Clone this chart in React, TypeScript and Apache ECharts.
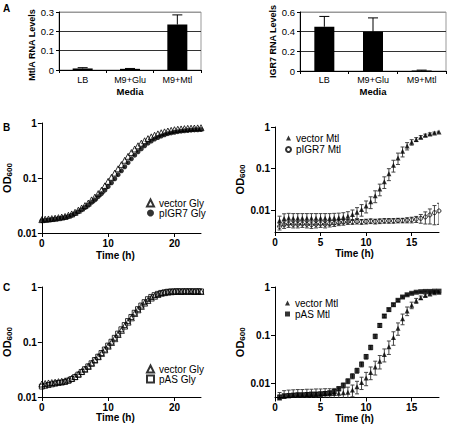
import React, { useEffect, useRef } from 'react';
import * as echarts from 'echarts';

// ---------- Panel A data ----------
const mediaCategories = ['LB', 'M9+Glu', 'M9+Mtl'];
const mtlALevels = [0.008, 0.006, 0.235];
const mtlAErrors = [0.004, 0.002, 0.05];
const igr7Levels = [0.45, 0.4, 0.005];
const igr7Errors = [0.105, 0.14, 0.004];

// ---------- Time grids (h) ----------
const timeGly = [0, 0.5, 1, 1.5, 2, 2.5, 3, 3.5, 4, 4.5, 5, 5.5, 6, 6.5, 7, 7.5, 8, 8.5, 9, 9.5, 10, 10.5, 11, 11.5, 12, 12.5, 13, 13.5, 14, 14.5, 15, 15.5, 16, 16.5, 17, 17.5, 18, 18.5, 19, 19.5, 20, 20.5, 21, 21.5, 22, 22.5, 23, 23.5, 24];
const timeMtl = [0.5, 1, 1.5, 2, 2.5, 3, 3.5, 4, 4.5, 5, 5.5, 6, 6.5, 7, 7.5, 8, 8.5, 9, 9.5, 10, 10.5, 11, 11.5, 12, 12.5, 13, 13.5, 14, 14.5, 15, 15.5, 16, 16.5, 17, 17.5, 18];
const glyTimeTicks = [0, 10, 20];
const mtlTimeTicks = [0, 5, 10, 15];
const decadeTicks = [-2, -1, 0];

// ---------- Panel B (left): glycerol ----------
const bVectorGly = [0.0175, 0.0178, 0.018, 0.0183, 0.0186, 0.019, 0.0195, 0.02, 0.021, 0.0222,
  0.0238, 0.026, 0.0285, 0.0315, 0.035, 0.04, 0.045, 0.052, 0.06, 0.072,
  0.087, 0.103, 0.123, 0.147, 0.175, 0.21, 0.248, 0.29, 0.337, 0.385,
  0.43, 0.475, 0.52, 0.56, 0.6, 0.635, 0.665, 0.69, 0.715, 0.735,
  0.755, 0.77, 0.78, 0.79, 0.8, 0.805, 0.81, 0.815, 0.82];
const bPIGR7Gly = [0.0168, 0.017, 0.0173, 0.0176, 0.018, 0.0184, 0.0188, 0.0193, 0.02, 0.021,
  0.0225, 0.0243, 0.0265, 0.029, 0.032, 0.036, 0.04, 0.046, 0.052, 0.06,
  0.07, 0.082, 0.097, 0.115, 0.135, 0.16, 0.19, 0.223, 0.26, 0.3,
  0.34, 0.385, 0.43, 0.47, 0.51, 0.545, 0.58, 0.61, 0.64, 0.66,
  0.68, 0.695, 0.71, 0.72, 0.73, 0.74, 0.75, 0.755, 0.76];

// ---------- Panel B (right): mannitol ----------
const bVectorMtl = [0.0056, 0.0062, 0.0064, 0.0063, 0.0063, 0.0063, 0.0063, 0.0063, 0.0063, 0.0063,
  0.0063, 0.0063, 0.0064, 0.0065, 0.0067, 0.0071, 0.0078, 0.0088, 0.0103, 0.0125,
  0.0158, 0.022, 0.032, 0.048, 0.075, 0.12, 0.18, 0.26, 0.35, 0.43,
  0.5, 0.57, 0.63, 0.68, 0.72, 0.76];
const bVectorMtlSD = [0.0015, 0.0019, 0.0019, 0.0019, 0.0019, 0.0019, 0.0019, 0.0019, 0.0019, 0.0019,
  0.0019, 0.0019, 0.0019, 0.0019, 0.0019, 0.002, 0.0022, 0.0026, 0.0032, 0.004,
  0.005, 0.007, 0.01, 0.015, 0.024, 0.038, 0.055, 0.07, 0.07, 0.065,
  0.055, 0.05, 0.045, 0.04, 0.035, 0.03];
const bPIGR7Mtl = [0.004, 0.0044, 0.0046, 0.0045, 0.0045, 0.0046, 0.0045, 0.0044, 0.0045, 0.0046,
  0.0045, 0.0047, 0.0048, 0.005, 0.0051, 0.0052, 0.0052, 0.0053, 0.0052, 0.0053,
  0.0054, 0.0053, 0.0054, 0.0055, 0.0055, 0.0055, 0.0056, 0.0056, 0.0057, 0.0058,
  0.006, 0.0063, 0.0068, 0.0076, 0.0086, 0.0095];
const bPIGR7MtlSD = [0.0007, 0.0008, 0.0008, 0.0008, 0.0008, 0.0008, 0.0008, 0.0008, 0.0008, 0.0008,
  0.0008, 0.0008, 0.0008, 0.0008, 0.0008, 0.0007, 0.0007, 0.0007, 0.0007, 0.0007,
  0.0007, 0.0007, 0.0007, 0.0007, 0.0007, 0.0007, 0.0007, 0.0007, 0.0008, 0.0009,
  0.001, 0.0015, 0.0022, 0.003, 0.0042, 0.005];

// ---------- Panel C (left): glycerol ----------
const cVectorGly = [0.0172, 0.0176, 0.018, 0.0183, 0.0186, 0.019, 0.0193, 0.0197, 0.0205, 0.0218,
  0.0235, 0.026, 0.029, 0.032, 0.036, 0.041, 0.047, 0.054, 0.062, 0.072,
  0.084, 0.098, 0.115, 0.137, 0.163, 0.195, 0.23, 0.275, 0.33, 0.385,
  0.445, 0.51, 0.57, 0.63, 0.68, 0.73, 0.77, 0.79, 0.81, 0.82,
  0.83, 0.83, 0.83, 0.83, 0.84, 0.83, 0.83, 0.83, 0.83];
const cPASGly = [0.0155, 0.016, 0.0165, 0.017, 0.0175, 0.018, 0.0183, 0.0188, 0.0198, 0.0212,
  0.023, 0.0255, 0.0285, 0.032, 0.036, 0.041, 0.047, 0.054, 0.063, 0.073,
  0.086, 0.101, 0.119, 0.142, 0.17, 0.203, 0.24, 0.285, 0.34, 0.395,
  0.46, 0.53, 0.6, 0.66, 0.71, 0.75, 0.78, 0.8, 0.82, 0.83,
  0.83, 0.84, 0.83, 0.84, 0.83, 0.84, 0.83, 0.84, 0.83];

// ---------- Panel C (right): mannitol ----------
const cVectorMtl = [0.005, 0.0054, 0.0056, 0.0057, 0.0058, 0.0058, 0.0059, 0.0059, 0.006, 0.006,
  0.0061, 0.0061, 0.0062, 0.0063, 0.0064, 0.0066, 0.0073, 0.0086, 0.0105, 0.013,
  0.017, 0.022, 0.029, 0.04, 0.058, 0.09, 0.14, 0.22, 0.32, 0.42,
  0.52, 0.6, 0.67, 0.72, 0.76, 0.78];
const cVectorMtlSD = [0.0015, 0.0017, 0.0017, 0.0017, 0.0017, 0.0017, 0.0017, 0.0017, 0.0017, 0.0017,
  0.0017, 0.0017, 0.0017, 0.0017, 0.0017, 0.0018, 0.002, 0.0025, 0.003, 0.004,
  0.005, 0.007, 0.009, 0.012, 0.018, 0.028, 0.04, 0.055, 0.065, 0.065,
  0.06, 0.05, 0.04, 0.03, 0.025, 0.02];
const cPASMtl = [0.0052, 0.0055, 0.0056, 0.0057, 0.0058, 0.0058, 0.0059, 0.006, 0.006, 0.0061,
  0.0062, 0.0064, 0.0068, 0.0078, 0.0092, 0.0112, 0.0142, 0.0185, 0.025, 0.036,
  0.056, 0.095, 0.16, 0.25, 0.34, 0.43, 0.53, 0.62, 0.69, 0.74,
  0.78, 0.8, 0.81, 0.81, 0.82, 0.82];
const cPASMtlSD = [0.0006, 0.0006, 0.0006, 0.0006, 0.0006, 0.0006, 0.0006, 0.0006, 0.0006, 0.0006,
  0.0006, 0.0006, 0.0007, 0.0008, 0.001, 0.0013, 0.0017, 0.0022, 0.003, 0.004,
  0.006, 0.01, 0.015, 0.02, 0.025, 0.03, 0.03, 0.03, 0.025, 0.02,
  0.02, 0.02, 0.02, 0.02, 0.02, 0.02];

const FONT = "'Liberation Sans', Arial, Helvetica, sans-serif";

const toLogPoints = (t: number[], v: number[]) => t.map((x, i) => [x, Math.log10(v[i])]);
const toLogErr = (t: number[], v: number[], sd: number[]) =>
  t.map((x, i) => [x, Math.log10(Math.max(v[i] - sd[i], 1e-4)), Math.log10(v[i] + sd[i])]);

const decadeLabel = (v: number) => {
  const r = Math.round(v);
  return r === 0 ? '1' : r === -1 ? '0.1' : r === -2 ? '0.01' : '';
};

const errorRender = (half: number, color: string, both: boolean) => (params: any, api: any) => {
  const x = api.value(0);
  const a = api.coord([x, api.value(1)]);
  const b = api.coord([x, api.value(2)]);
  const style = { stroke: color, lineWidth: 1, fill: 'none' };
  const children: any[] = [
    { type: 'line', shape: { x1: a[0], y1: a[1], x2: b[0], y2: b[1] }, style },
    { type: 'line', shape: { x1: b[0] - half, y1: b[1], x2: b[0] + half, y2: b[1] }, style },
  ];
  if (both) children.push({ type: 'line', shape: { x1: a[0] - half, y1: a[1], x2: a[0] + half, y2: a[1] }, style });
  return { type: 'group', children };
};

const growthX = (gridIndex: number, max: number, ticks: number[], nameGap: number, padRight: number) => ({
  type: 'value', gridIndex, min: 0, max,
  axisLine: { onZero: false, lineStyle: { color: '#000', width: 1 } },
  axisTick: { length: 4, customValues: ticks, lineStyle: { color: '#000' } },
  axisLabel: { customValues: ticks, margin: 5, color: '#000', fontSize: 10, fontWeight: 'bold', fontFamily: FONT },
  splitLine: { show: false },
  name: 'Time (h)', nameLocation: 'middle', nameGap,
  nameTextStyle: { color: '#000', fontSize: 10, fontWeight: 'bold', fontFamily: FONT, padding: [0, padRight, 0, 0] },
});

const growthY = (gridIndex: number, min: number, nameGap: number) => ({
  type: 'value', gridIndex, min, max: 0,
  axisLine: { show: true, onZero: false, lineStyle: { color: '#000', width: 1 } },
  axisTick: { show: true, length: 4, customValues: decadeTicks, lineStyle: { color: '#000' } },
  axisLabel: { customValues: decadeTicks, formatter: decadeLabel, margin: 5, color: '#000', fontSize: 10, fontWeight: 'bold', fontFamily: FONT },
  splitLine: { show: false },
  name: '{a|OD}{b|600}', nameLocation: 'middle', nameRotate: 90, nameGap,
  nameTextStyle: {
    rich: {
      a: { fontSize: 11, fontWeight: 'bold', fontFamily: FONT, color: '#000', lineHeight: 14 },
      b: { fontSize: 8, fontWeight: 'bold', fontFamily: FONT, color: '#000', lineHeight: 8, verticalAlign: 'bottom' },
    },
  },
});

const barX = (gridIndex: number, nameGap: number, labelMargin: number) => ({
  type: 'category', gridIndex, data: mediaCategories,
  axisLine: { lineStyle: { color: '#000', width: 1 } },
  axisTick: { show: true, length: 3, alignWithLabel: false, lineStyle: { color: '#000' } },
  axisLabel: { margin: labelMargin, color: '#000', fontSize: 9, fontFamily: FONT },
  name: 'Media', nameLocation: 'middle', nameGap,
  nameTextStyle: { color: '#000', fontSize: 9.5, fontWeight: 'bold', fontFamily: FONT },
});

const barY = (gridIndex: number, max: number, interval: number, name: string, nameGap: number, pad: number[]) => ({
  type: 'value', gridIndex, min: 0, max, interval,
  axisLine: { show: true, lineStyle: { color: '#000', width: 1 } },
  axisTick: { show: true, length: 3, lineStyle: { color: '#000' } },
  axisLabel: { margin: 5, color: '#000', fontSize: 9.5, fontFamily: FONT },
  splitLine: { show: true, lineStyle: { color: ['#000', '#333', '#333', '#999'], width: 1 } },
  name, nameLocation: 'middle', nameRotate: 90, nameGap,
  nameTextStyle: { color: '#000', fontSize: 9, fontWeight: 'bold', fontFamily: FONT, padding: pad },
});

const legendBase = {
  orient: 'vertical', itemWidth: 7, itemHeight: 7, itemGap: 0, padding: 0, selectedMode: false,
  textStyle: { fontSize: 10, lineHeight: 10, color: '#000', fontFamily: FONT },
};

const hollow = { color: 'rgba(0,0,0,0)', borderColor: '#000', borderWidth: 1 };
const solid = { color: '#000', borderWidth: 0 };

const scatter = (name: string, xi: number, t: number[], v: number[], symbol: string, size: number, style: any) => ({
  type: 'scatter', name, xAxisIndex: xi, yAxisIndex: xi, data: toLogPoints(t, v),
  symbol, symbolSize: size, itemStyle: style, z: 3, clip: false,
});

const errSeries = (name: string, xi: number, t: number[], v: number[], sd: number[]) => ({
  type: 'custom', name, xAxisIndex: xi, yAxisIndex: xi, data: toLogErr(t, v, sd),
  encode: { x: 0, y: [1, 2] }, renderItem: errorRender(2, '#444', true), clip: true, z: 2, silent: true,
});

export default function App() {
  const ref = useRef<HTMLDivElement>(null);
  useEffect(() => {
    if (!ref.current) return;
    const chart = echarts.init(ref.current, undefined, { renderer: 'svg' });
    const option: any = {
      animation: false,
      backgroundColor: '#fff',
      grid: [
        { left: 59, top: 12, width: 142, height: 58, show: true, borderColor: '#999', borderWidth: 1, backgroundColor: 'rgba(0,0,0,0)' },
        { left: 300, top: 12, width: 146, height: 59, show: true, borderColor: '#999', borderWidth: 1, backgroundColor: 'rgba(0,0,0,0)' },
        { left: 34, top: 123, width: 167, height: 110 },
        { left: 275, top: 127, width: 164, height: 105 },
        { left: 34, top: 287, width: 167, height: 110 },
        { left: 275, top: 287, width: 164, height: 110.5 },
      ],
      xAxis: [
        barX(0, 16.5, 5.5),
        barX(1, 15, 4.5),
        growthX(2, 24, glyTimeTicks, 17, 12),
        growthX(3, 18, mtlTimeTicks, 16, 5),
        growthX(4, 24, glyTimeTicks, 14, 12),
        growthX(5, 18, mtlTimeTicks, 15, 5),
      ],
      yAxis: [
        barY(0, 0.3, 0.1, 'MtlA RNA Levels', 22, [0, 8, 0, 0]),
        barY(1, 0.6, 0.2, 'IGR7 RNA Levels', 23, [0, 0, 0, 0]),
        growthY(2, -2, 20),
        growthY(3, -2.53, 25),
        growthY(4, -2, 20),
        growthY(5, -2.29, 25),
      ],
      legend: [
        { ...legendBase, data: ['vector Gly', 'pIGR7 Gly'], left: 146, top: 198 },
        { ...legendBase, data: ['vector Mtl', 'pIGR7 Mtl'], left: 285, top: 133, itemWidth: 5, itemHeight: 5, itemGap: 1.5 },
        { ...legendBase, data: ['vector Gly', 'pAS Gly'], left: 146, top: 364 },
        { ...legendBase, data: ['vector Mtl', 'pAS Mtl'], left: 285, top: 298, itemWidth: 5, itemHeight: 5, itemGap: 1 },
      ],
      graphic: [
        { type: 'text', left: 3, top: 3, style: { text: 'A', fontSize: 10, fontWeight: 'bold', fontFamily: FONT, fill: '#000' } },
        { type: 'text', left: 3, top: 122, style: { text: 'B', fontSize: 10, fontWeight: 'bold', fontFamily: FONT, fill: '#000' } },
        { type: 'text', left: 3, top: 282, style: { text: 'C', fontSize: 10, fontWeight: 'bold', fontFamily: FONT, fill: '#000' } },
      ],
      series: [
        { type: 'bar', name: 'MtlA', xAxisIndex: 0, yAxisIndex: 0, data: mtlALevels, barWidth: 20, itemStyle: { color: '#000' } },
        {
          type: 'custom', name: 'MtlA SD', xAxisIndex: 0, yAxisIndex: 0,
          data: mtlALevels.map((v, i) => [i, v, v + mtlAErrors[i]]),
          encode: { x: 0, y: [1, 2] }, renderItem: errorRender(5, '#000', false), z: 3,
        },
        { type: 'bar', name: 'IGR7', xAxisIndex: 1, yAxisIndex: 1, data: igr7Levels, barWidth: 20, itemStyle: { color: '#000' } },
        {
          type: 'custom', name: 'IGR7 SD', xAxisIndex: 1, yAxisIndex: 1,
          data: igr7Levels.map((v, i) => [i, v, v + igr7Errors[i]]),
          encode: { x: 0, y: [1, 2] }, renderItem: errorRender(5, '#000', false), z: 3,
        },
        scatter('vector Gly', 2, timeGly, bVectorGly, 'triangle', 6, hollow),
        scatter('pIGR7 Gly', 2, timeGly, bPIGR7Gly, 'circle', 5, solid),
        errSeries('vector Mtl SD B', 3, timeMtl, bVectorMtl, bVectorMtlSD),
        errSeries('pIGR7 Mtl SD B', 3, timeMtl, bPIGR7Mtl, bPIGR7MtlSD),
        scatter('pIGR7 Mtl', 3, timeMtl, bPIGR7Mtl, 'circle', 4, hollow),
        scatter('vector Mtl', 3, timeMtl, bVectorMtl, 'triangle', 5, solid),
        scatter('vector Gly', 4, timeGly, cVectorGly, 'triangle', 6, hollow),
        scatter('pAS Gly', 4, timeGly, cPASGly, 'rect', 5, hollow),
        errSeries('vector Mtl SD C', 5, timeMtl, cVectorMtl, cVectorMtlSD),
        errSeries('pAS Mtl SD C', 5, timeMtl, cPASMtl, cPASMtlSD),
        scatter('vector Mtl', 5, timeMtl, cVectorMtl, 'triangle', 5, solid),
        scatter('pAS Mtl', 5, timeMtl, cPASMtl, 'rect', 5, solid),
      ],
    };
    chart.setOption(option);
    return () => chart.dispose();
  }, []);
  return <div ref={ref} style={{ position: 'absolute', left: 0, top: 0, width: 455, height: 428 }} />;
}
